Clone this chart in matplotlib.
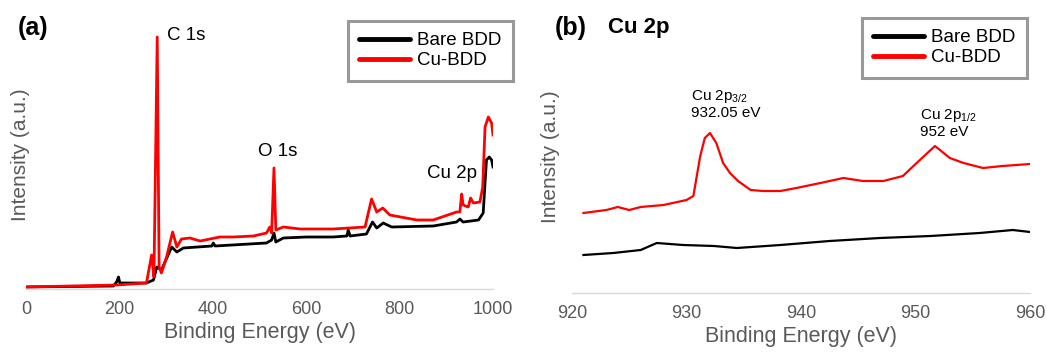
import numpy as np
import matplotlib
matplotlib.use("Agg")
import matplotlib.pyplot as plt
from matplotlib.lines import Line2D

plt.rcParams['font.family'] = ['Liberation Sans', 'DejaVu Sans']
plt.rcParams['mathtext.fontset'] = 'custom'
plt.rcParams['mathtext.rm'] = 'Liberation Sans'
plt.rcParams['mathtext.it'] = 'Liberation Sans'

# (a) survey spectra, intensity in arbitrary units
bare_a_x = [0, 187, 194, 198, 201, 258, 273, 280, 290, 312, 323, 337, 398, 401, 405, 515, 526, 531,
            535, 551, 601, 658, 687, 690, 694, 729, 742, 751, 765, 783, 872, 922, 929, 936, 969, 979,
            986, 992, 997, 1000]
bare_a_y = [2, 3, 7, 12, 6, 6, 9, 22, 19, 42, 37, 41, 43, 46, 43, 46, 49, 56,
            47, 51, 52, 52, 53, 59, 53, 55, 67, 61, 66, 62, 63, 67, 70, 67, 69, 76,
            129, 132, 129, 122]

cu_a_x = [0, 194, 258, 269, 274, 281, 285, 290, 301, 314, 323, 333, 351, 373, 415, 444, 487, 515,
          522, 526, 531, 535, 551, 587, 658, 726, 740, 751, 764, 779, 837, 872, 922, 929, 933, 936,
          947, 952, 958, 972, 978, 983, 990, 997, 1000]
cu_a_y = [2, 4, 6, 34, 12, 252, 22, 16, 32, 57, 42, 50, 51, 48, 52, 52, 53, 56,
          62, 56, 121, 59, 62, 60, 60, 62, 90, 77, 81, 74, 69, 69, 77, 77, 95, 84,
          82, 91, 86, 87, 102, 162, 172, 166, 154]

# (b) Cu 2p region
bare_b_x = [921, 923.6, 926, 927.4, 929.7, 932.4, 934.4, 938.2, 942.5, 946.9, 951.3, 955.6, 958.5, 960]
bare_b_y = [38, 40, 43, 50, 48, 47, 45, 48, 52, 55, 57, 60, 63, 61]

cu_b_x = [921, 923, 924, 925, 926, 928, 930, 930.6, 931.2, 931.6, 932.05, 932.6, 933.2, 933.8, 934.5,
          935.6, 936.7, 938.2, 939.6, 941.7, 943.7, 945.4, 947.2, 948.9, 950.1, 951.7, 953.0, 954.2,
          955.9, 957.6, 960]
cu_b_y = [80, 83, 86, 83, 86, 88, 93, 97, 137, 155, 160, 150, 130, 120, 112,
          103, 102, 102, 105, 110, 115, 112, 112, 117, 130, 147, 135, 130,
          125, 127, 129]

peak_labels_a = ['C 1s', 'O 1s', 'Cu 2p']
peak_pos_a = [(302, 253), (496, 138), (858, 116)]

W, H = 1047, 352
fig = plt.figure(figsize=(W / 100, H / 100), dpi=100)

tick_col = '#595959'
axis_col = '#d9d9d9'
red = '#ff0000'


def style(ax):
    for s in ['left', 'right', 'top']:
        ax.spines[s].set_visible(False)
    ax.spines['bottom'].set_color(axis_col)
    ax.spines['bottom'].set_linewidth(1.0)
    ax.set_yticks([])
    ax.tick_params(axis='x', length=0, pad=8.5, labelsize=13, colors=tick_col)
    ax.set_xlabel('Binding Energy (eV)', fontsize=15.5, color=tick_col, labelpad=3)
    ax.set_ylabel('Intensity (a.u.)', fontsize=15, color=tick_col)


def add_legend(ax, right, top):
    h = [Line2D([], [], color='black', lw=3.5, solid_capstyle='round'),
         Line2D([], [], color=red, lw=3.5, solid_capstyle='round')]
    leg = ax.legend(h, ['Bare BDD', 'Cu-BDD'], loc='upper right',
                    bbox_to_anchor=(right / W, 1 - top / H), bbox_transform=fig.transFigure,
                    borderaxespad=0, fancybox=False, fontsize=13.5, handlelength=2.7,
                    handletextpad=0.4, labelspacing=0.15, borderpad=0.6)
    leg.get_frame().set_edgecolor('#808080')
    leg.get_frame().set_linewidth(2.2)
    return leg


# panel (a)
ax1 = fig.add_axes([26 / W, 1 - 289 / H, 467 / W, 269 / H])
ax1.plot(bare_a_x, bare_a_y, color='black', lw=2)
ax1.plot(cu_a_x, cu_a_y, color=red, lw=2)
ax1.set_xlim(0, 1000)
ax1.set_ylim(0, 269)
ax1.set_xticks([0, 200, 400, 600, 800, 1000])
style(ax1)
ax1.yaxis.set_label_coords(0.008, 0.5)
for lab, (x, y) in zip(peak_labels_a, peak_pos_a):
    ax1.text(x, y, lab, fontsize=13.5, ha='left', va='center')
add_legend(ax1, 513, 21)
fig.text(18 / W, 1 - 28 / H, '(a)', fontsize=18, fontweight='bold', va='center')

# panel (b)
ax2 = fig.add_axes([572 / W, 1 - 293 / H, 458 / W, 273 / H])
ax2.plot(bare_b_x, bare_b_y, color='black', lw=1.6)
ax2.plot(cu_b_x, cu_b_y, color=red, lw=1.6)
ax2.set_xlim(920, 960)
ax2.set_ylim(0, 273)
ax2.set_xticks([920, 930, 940, 950, 960])
style(ax2)
ax2.yaxis.set_label_coords(-0.026, 0.5)
ax2.text(930.4, 189, 'Cu 2p$_{3/2}$\n932.05 eV', fontsize=11, ha='left', va='center', linespacing=1.15)
ax2.text(950.4, 170, 'Cu 2p$_{1/2}$\n952 eV', fontsize=11, ha='left', va='center', linespacing=1.15)
add_legend(ax2, 1027, 18)
fig.text(555 / W, 1 - 28 / H, '(b)', fontsize=18, fontweight='bold', va='center')
fig.text(608 / W, 1 - 28 / H, 'Cu 2p', fontsize=16, fontweight='bold', va='center')

fig.savefig('out.png', dpi=100)
